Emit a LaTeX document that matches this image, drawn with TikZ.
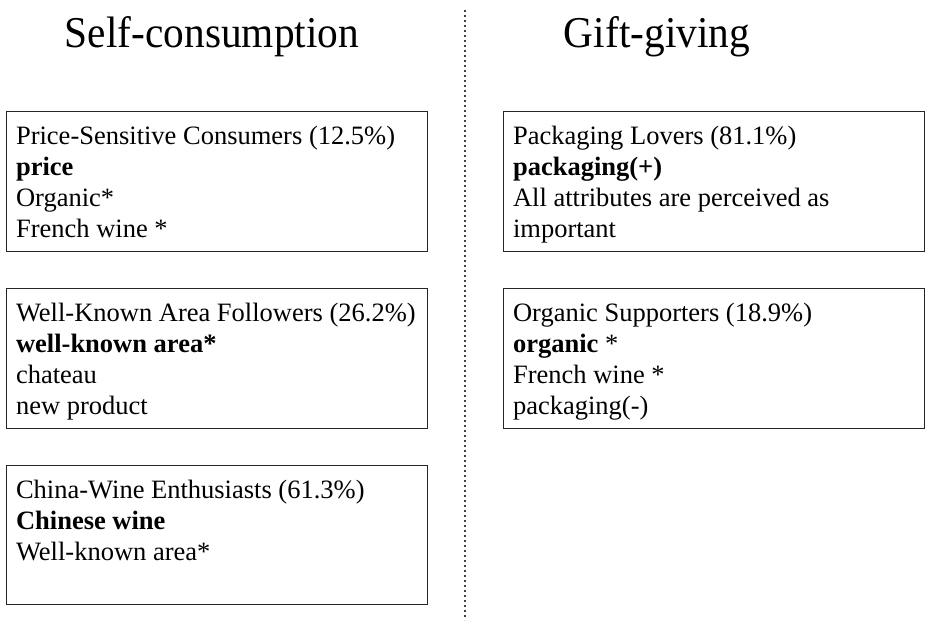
\documentclass[tikz,border=0pt]{standalone}
\usepackage{fontspec}
\setmainfont{Liberation Serif}
\tikzset{
  box/.style={draw=black!85, line width=1.1pt, anchor=north west, inner xsep=9.5pt, inner ysep=0pt, align=left},
  ttl/.style={anchor=base, inner sep=0pt, font=\fontsize{44}{50}\selectfont},
  divider/.style={draw=black!75, line width=1.2pt, dash pattern=on 2pt off 3pt},
}
\newcommand\boxtext[2]{\parbox[c][#1][t]{402pt}{\fontsize{26.5}{31}\selectfont\vspace*{13pt}\rule{0pt}{20pt}#2}}
\begin{document}
\begin{tikzpicture}[x=1pt,y=-1pt]
\useasboundingbox (0,0) rectangle (935,627);
% titles
\node[ttl] (t1) at (212,47) {\scalebox{0.94}[1]{Self-consumption}};
\node[ttl] (t2) at (657,47) {\scalebox{0.94}[1]{Gift-giving}};
% divider
\coordinate (dtop) at (465,10);
\coordinate (dbot) at (465,620);
\draw[divider] (dtop) -- (dbot);
% left boxes
\node[box] (l1) at (6,111) {\boxtext{140pt}{Price-Sensitive Consumers (12.5\%)\\ \textbf{price}\\ Organic*\\ French wine *}};
\node[box] (l2) at (6,288) {\boxtext{140pt}{Well-Known Area Followers (26.2\%)\\ \textbf{well-known area*}\\ chateau\\ new product}};
\node[box] (l3) at (6,465) {\boxtext{139pt}{China-Wine Enthusiasts (61.3\%)\\ \textbf{Chinese wine}\\ Well-known area*}};
% right boxes
\node[box] (r1) at (503,111) {\boxtext{140pt}{Packaging Lovers (81.1\%)\\ \textbf{packaging(+)}\\ All attributes are perceived as\\ important}};
\node[box] (r2) at (503,288) {\boxtext{140pt}{Organic Supporters (18.9\%)\\ \textbf{organic} *\\ French wine *\\ packaging(-)}};
\end{tikzpicture}
\end{document}
